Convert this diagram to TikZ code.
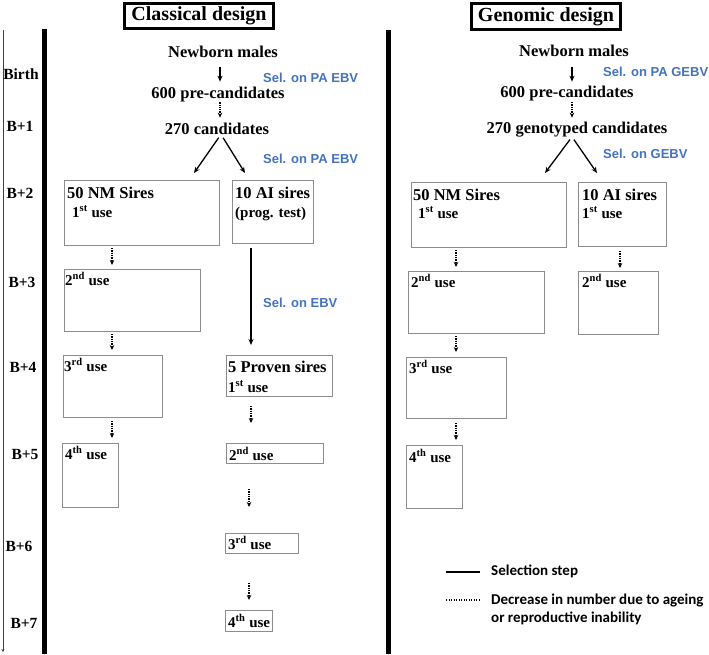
\documentclass[tikz,border=0pt]{standalone}
\usepackage{fontspec}
\setmainfont{Liberation Serif}
\newfontfamily\bluefont{Liberation Sans}
\newfontfamily\legfont{Carlito}
\usetikzlibrary{arrows.meta,calc}
\definecolor{selblue}{HTML}{4472C4}
\definecolor{boxgray}{HTML}{8C8C8C}
\begin{document}
\begin{tikzpicture}[x=1pt,y=-1pt,
  box/.style={draw=boxgray, line width=1pt, anchor=north west, inner sep=0pt},
  head/.style={font=\bfseries\fontsize{16.5}{18}\selectfont, inner sep=0pt},
  small/.style={font=\bfseries\fontsize{15}{17}\selectfont, inner sep=0pt, anchor=base west},
  bhead/.style={head, anchor=base west},
  bluelab/.style={font=\bluefont\bfseries\fontsize{13}{15}\selectfont, text=selblue, inner sep=0pt, anchor=base west},
  yearlab/.style={font=\bfseries\fontsize{15.5}{17}\selectfont, inner sep=0pt, anchor=base},
  titlebox/.style={draw, line width=3pt, font=\bfseries\fontsize{20}{22}\selectfont, minimum width=149pt, minimum height=25.5pt, inner sep=0pt},
  legtext/.style={font=\legfont\bfseries\fontsize{15}{17}\selectfont, inner sep=0pt, anchor=base west},
  sel/.style={line width=1.3pt, -{Stealth[length=6pt,width=5pt]}},
  dec/.style={line width=1.4pt, dash pattern=on 1.3pt off 1pt, -{Stealth[length=5pt,width=4.5pt]}},
  axis/.style={line width=0.8pt, draw=black!75}
]
\useasboundingbox (0,0) rectangle (709,654);

% titles
\node[titlebox] (tc) at (199,16) {Classical design};
\node[titlebox, minimum height=26pt] (tg) at (546,16.5) {Genomic design};

% axes
\coordinate (ta0) at (3,30);
\coordinate (ta1) at (3,652);
\draw[axis, -{Stealth[length=3pt,width=3pt]}] (ta0) -- (ta1);
\coordinate (la0) at (44.5,29);
\coordinate (la1) at (44.5,654);
\draw[line width=4.5pt] (la0) -- (la1);
\coordinate (ra0) at (388.5,30);
\coordinate (ra1) at (388.5,654);
\draw[line width=5.5pt] (ra0) -- (ra1);

% year labels
\node[yearlab] (y0) at (21,79) {Birth};
\node[yearlab] (y1) at (20,131) {B+1};
\node[yearlab] (y2) at (20,198) {B+2};
\node[yearlab] (y3) at (22,287) {B+3};
\node[yearlab] (y4) at (23,372) {B+4};
\node[yearlab] (y5) at (25,459) {B+5};
\node[yearlab] (y6) at (19,551) {B+6};
\node[yearlab] (y7) at (24,628) {B+7};

% ---------- classical ----------
\node[head, anchor=base] (cnb) at (223,57) {Newborn males};
\node[head, anchor=base] (cpc) at (218,98) {600 pre-candidates};
\node[head, anchor=base] (ccd) at (217,134) {270 candidates};
\node[bluelab] (cs1) at (263,82) {Sel. on PA EBV};
\node[bluelab] (cs2) at (263,163) {Sel. on PA EBV};
\node[bluelab] (cs3) at (263,307) {Sel. on EBV};

\node[box, minimum width=155pt, minimum height=65pt] (c1) at (64,180) {};
\node[box, minimum width=81pt, minimum height=63pt] (c2) at (232,180) {};
\node[box, minimum width=136pt, minimum height=62pt] (c3) at (64,269) {};
\node[box, minimum width=99pt, minimum height=62pt] (c4) at (63,355) {};
\node[box, minimum width=56pt, minimum height=64pt] (c5) at (62,443) {};
\node[box, minimum width=106pt, minimum height=41pt] (p1) at (226,355) {};
\node[box, minimum width=97pt, minimum height=20pt] (p2) at (226,443) {};
\node[box, minimum width=73pt, minimum height=20pt] (p3) at (225,533) {};
\node[box, minimum width=47pt, minimum height=21pt] (p4) at (225,610) {};

\node[bhead] (c1a) at (67,198) {50 NM Sires};
\node[small] (c1b) at (72,217) {1\textsuperscript{st} use};
\node[bhead] (c2a) at (235,198) {10 AI sires};
\node[small] (c2b) at (235,217) {(prog. test)};
\node[small] (c3a) at (65,285) {2\textsuperscript{nd} use};
\node[small] (c4a) at (64,371) {3\textsuperscript{rd} use};
\node[small] (c5a) at (65,459) {4\textsuperscript{th} use};
\node[bhead] (p1a) at (228,372) {5 Proven sires};
\node[small] (p1b) at (228,392) {1\textsuperscript{st} use};
\node[small] (p2a) at (229,460) {2\textsuperscript{nd} use};
\node[small] (p3a) at (228,549) {3\textsuperscript{rd} use};
\node[small] (p4a) at (228,627) {4\textsuperscript{th} use};

\coordinate (cx1) at (220,0);
\coordinate (cx2) at (221,0);
\coordinate (cl) at (194,173);
\coordinate (cr) at (245,173);
\coordinate (cxa) at (112,0);
\coordinate (cxb) at (251,0);
\coordinate (cxc) at (249,0);

\draw[sel, shorten <=10pt, shorten >=4.7pt] (cnb.south -| cx1) -- (cpc.north -| cx1);
\draw[dec, shorten <=0.5pt, shorten >=4.7pt] (cpc.south -| cx1) -- (ccd.north -| cx1);
\draw[sel, shorten <=4pt] (ccd.south -| cx2) -- (cl);
\draw[sel, shorten <=4pt] (ccd.south -| cx2) -- (cr);
\draw[dec, shorten <=2pt, shorten >=4pt] (c1.south -| cxa) -- (c3.north -| cxa);
\draw[dec, shorten <=2pt, shorten >=5pt] (c3.south -| cxa) -- (c4.north -| cxa);
\draw[dec, shorten <=3pt, shorten >=5pt] (c4.south -| cxa) -- (c5.north -| cxa);
\draw[sel, shorten <=4pt, shorten >=10pt] (c2.south -| cxb) -- (p1.north -| cxb);
\draw[dec, shorten <=9pt, shorten >=20pt] (p1.south -| cxb) -- (p2.north -| cxb);
\draw[dec, shorten <=25pt, shorten >=26pt] (p2.south -| cxc) -- (p3.north -| cxc);
\draw[dec, shorten <=29pt, shorten >=10pt] (p3.south -| cxc) -- (p4.north -| cxc);

% ---------- genomic ----------
\node[head, anchor=base] (gnb) at (574,56) {Newborn males};
\node[head, anchor=base] (gpc) at (567,97) {600 pre-candidates};
\node[head, anchor=base] (gcd) at (577,133) {270 genotyped candidates};
\node[bluelab] (gs1) at (603,76) {Sel. on PA GEBV};
\node[bluelab] (gs2) at (603,158) {Sel. on GEBV};

\node[box, minimum width=155pt, minimum height=65pt] (g1) at (411,182) {};
\node[box, minimum width=88pt, minimum height=64pt] (g2) at (578,182) {};
\node[box, minimum width=136pt, minimum height=62pt] (g3) at (408,271) {};
\node[box, minimum width=80pt, minimum height=63pt] (g4) at (578,271) {};
\node[box, minimum width=100pt, minimum height=61pt] (g5) at (406,357) {};
\node[box, minimum width=56pt, minimum height=63pt] (g6) at (406,445) {};

\node[bhead] (g1a) at (413,200) {50 NM Sires};
\node[small] (g1b) at (418,218) {1\textsuperscript{st} use};
\node[bhead] (g2a) at (582,200) {10 AI sires};
\node[small] (g2b) at (582,218) {1\textsuperscript{st} use};
\node[small] (g3a) at (411,287) {2\textsuperscript{nd} use};
\node[small] (g4a) at (582,287) {2\textsuperscript{nd} use};
\node[small] (g5a) at (409,373) {3\textsuperscript{rd} use};
\node[small] (g6a) at (409,462) {4\textsuperscript{th} use};

\coordinate (gx1) at (572,0);
\coordinate (gl) at (545,173);
\coordinate (gr) at (597,173);
\coordinate (gxa) at (456,0);
\coordinate (gxb) at (620,0);

\draw[sel, shorten <=11pt, shorten >=3.7pt] (gnb.south -| gx1) -- (gpc.north -| gx1);
\draw[dec, shorten <=1.4pt, shorten >=3.7pt] (gpc.south -| gx1) -- (gcd.north -| gx1);
\draw[sel, shorten <=3.4pt] (gcd.south -| gx1) -- (gl);
\draw[sel, shorten <=3.4pt] (gcd.south -| gx1) -- (gr);
\draw[dec, shorten <=2pt, shorten >=4pt] (g1.south -| gxa) -- (g3.north -| gxa);
\draw[dec, shorten <=4pt, shorten >=3pt] (g2.south -| gxb) -- (g4.north -| gxb);
\draw[dec, shorten <=2pt, shorten >=5pt] (g3.south -| gxa) -- (g5.north -| gxa);
\draw[dec, shorten <=4pt, shorten >=5pt] (g5.south -| gxa) -- (g6.north -| gxa);

% ---------- legend ----------
\coordinate (l1a) at (446,572);
\coordinate (l1b) at (480,572);
\coordinate (l2a) at (446,600);
\coordinate (l2b) at (480,600);
\draw[line width=1.3pt] (l1a) -- (l1b);
\draw[line width=1.1pt, dash pattern=on 1pt off 1.5pt] (l2a) -- (l2b);
\node[legtext] (lt1) at (491,575) {Selection step};
\node[legtext] (lt2) at (491,604) {Decrease in number due to ageing};
\node[legtext] (lt3) at (491,622) {or reproductive inability};
\end{tikzpicture}
\end{document}
